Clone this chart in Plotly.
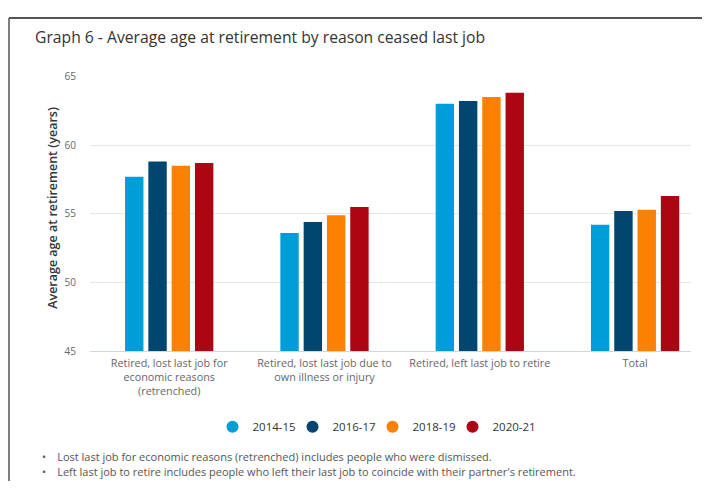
import plotly.graph_objects as go

categories = [
    "Retired, lost last job for<br>economic reasons<br>(retrenched)",
    "Retired, lost last job due to<br>own illness or injury",
    "Retired, left last job to retire",
    "Total",
]
series_names = ["2014-15", "2016-17", "2018-19", "2020-21"]
v_2014_15 = [57.7, 53.6, 63.0, 54.2]
v_2016_17 = [58.8, 54.4, 63.2, 55.2]
v_2018_19 = [58.5, 54.9, 63.5, 55.3]
v_2020_21 = [58.7, 55.5, 63.8, 56.3]
colors = ["#009ed8", "#00466e", "#fb8103", "#ad0613"]
y_ticks = [45, 50, 55, 60, 65]
footnotes = [
    "Lost last job for economic reasons (retrenched) includes people who were dismissed.",
    "Left last job to retire includes people who left their last job to coincide with their partner's retirement.",
]

# figure sized to fit the page inside the browser's default 8px body margin
OFF = 8
W, H = 710 - 2 * OFF, 496 - 2 * OFF
FONT = "Open Sans"


def px(x):
    return (x - OFF) / W


def py(y):
    return (H - (y - OFF)) / H


fig = go.Figure()
n = len(series_names)
for i, (name, vals, col) in enumerate(zip(series_names, [v_2014_15, v_2016_17, v_2018_19, v_2020_21], colors)):
    fig.add_trace(go.Bar(
        x=list(range(len(categories))), y=vals, name=name,
        marker=dict(color=col, line=dict(width=0)),
        showlegend=False,
    ))
    fig.add_trace(go.Scatter(
        x=[None], y=[None], mode="markers", name=name,
        marker=dict(symbol="circle", size=12, color=col),
        showlegend=True,
        legendwidth=(50 if i == n - 1 else 35),
    ))

fig.update_layout(
    width=W, height=H, autosize=False,
    margin=dict(l=0, r=0, t=0, b=0),
    paper_bgcolor="white", plot_bgcolor="white",
    font=dict(family=FONT, color="#333333"),
    barmode="group", bargap=0.4, bargroupgap=0.21,
    showlegend=True,
    legend=dict(
        orientation="h", x=px(380), xanchor="center",
        y=py(432), yanchor="middle",
        font=dict(family=FONT, size=11.5, color="#333333"),
        itemwidth=30, tracegroupgap=0, itemclick=False,
        entrywidthmode="pixels",
    ),
    xaxis=dict(
        domain=[px(90), px(691)],
        range=[-0.51, 3.36],
        tickmode="array", tickvals=list(range(len(categories))), ticktext=categories,
        tickfont=dict(family=FONT, size=10.8, color="#666666"),
        showgrid=False, zeroline=False,
        showline=True, linecolor="#ccd6eb", linewidth=1,
        ticks="", ticklabelstandoff=2, fixedrange=True,
    ),
    yaxis=dict(
        domain=[py(354), py(70.3)],
        range=[45, 65],
        tickmode="array", tickvals=y_ticks,
        tickfont=dict(family=FONT, size=10, color="#666666"),
        showgrid=True, gridcolor="#e6e6e6", gridwidth=1,
        zeroline=False, showline=False, ticks="",
        ticklabelstandoff=13, fixedrange=True,
    ),
)

annotations = [
    dict(text="Graph 6 - Average age at retirement by reason ceased last job",
         xref="paper", yref="paper", x=px(33), y=py(30),
         xanchor="left", yanchor="middle", showarrow=False,
         font=dict(family=FONT, size=15.7, color="#333333")),
    dict(text="Average age at retirement (years)",
         xref="paper", yref="paper", x=px(53), y=py(206),
         xanchor="center", yanchor="middle", showarrow=False, textangle=-90,
         font=dict(family=FONT, size=12.5, color="#333333", weight=600)),
]
for i, t in enumerate(footnotes):
    yy = 462.5 + 15.5 * i
    annotations.append(dict(text="\u2022\u2002\u2002" + t, xref="paper", yref="paper",
                            x=px(39.5), y=py(yy), xanchor="left", yanchor="middle",
                            showarrow=False, font=dict(family=FONT, size=11, color="#555555")))
fig.update_layout(annotations=annotations)

fig.update_layout(shapes=[
    dict(type="line", xref="paper", yref="paper", x0=px(9), x1=1.0,
         y0=py(10), y1=py(10), line=dict(color="#555555", width=2)),
    dict(type="line", xref="paper", yref="paper", x0=px(9), x1=px(9),
         y0=0, y1=py(10), line=dict(color="#555555", width=1.5)),
])

fig.write_html("out.html")
